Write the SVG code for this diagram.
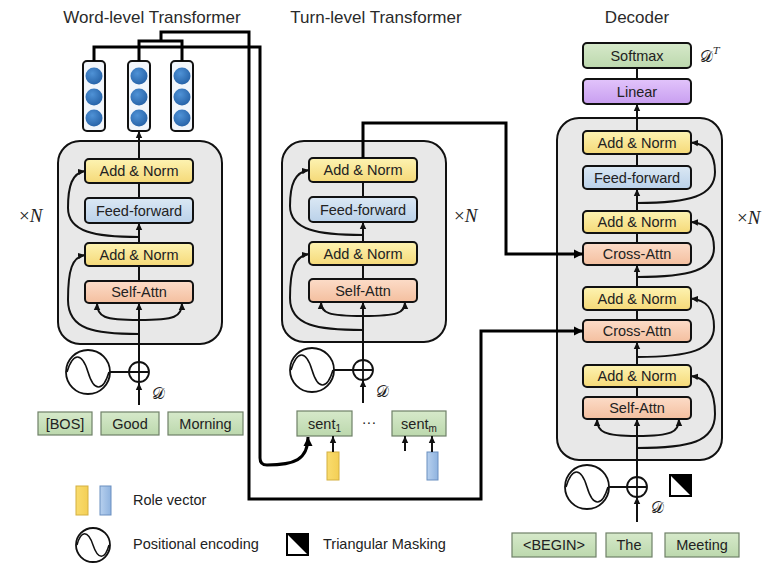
<svg xmlns="http://www.w3.org/2000/svg" width="783" height="576" viewBox="0 0 783 576">
<defs>
<linearGradient id="gY" x1="0" y1="0" x2="0" y2="1"><stop offset="0" stop-color="#fdf3b2"/><stop offset="1" stop-color="#f5d978"/></linearGradient>
<linearGradient id="gB" x1="0" y1="0" x2="0" y2="1"><stop offset="0" stop-color="#dbe8f4"/><stop offset="1" stop-color="#bad1e9"/></linearGradient>
<linearGradient id="gR" x1="0" y1="0" x2="0" y2="1"><stop offset="0" stop-color="#fcdcc8"/><stop offset="1" stop-color="#f4bf9f"/></linearGradient>
<linearGradient id="gG" x1="0" y1="0" x2="0" y2="1"><stop offset="0" stop-color="#d6e9ca"/><stop offset="1" stop-color="#bcd8ad"/></linearGradient>
<linearGradient id="gP" x1="0" y1="0" x2="0" y2="1"><stop offset="0" stop-color="#e2c4fb"/><stop offset="1" stop-color="#c89ef0"/></linearGradient>
<linearGradient id="gYv" x1="0" y1="0" x2="1" y2="0"><stop offset="0" stop-color="#f9dc6e"/><stop offset="1" stop-color="#f4cf55"/></linearGradient>
<linearGradient id="gBv" x1="0" y1="0" x2="1" y2="0"><stop offset="0" stop-color="#b7d0ee"/><stop offset="1" stop-color="#8fb3df"/></linearGradient>
<radialGradient id="gC" cx="0.4" cy="0.35" r="0.7"><stop offset="0" stop-color="#4f92d6"/><stop offset="1" stop-color="#2561a6"/></radialGradient>
<marker id="a" markerUnits="userSpaceOnUse" markerWidth="8" markerHeight="8" refX="7" refY="4" orient="auto"><path d="M0,0.8 L7,4 L0,7.2 z" fill="#111"/></marker>
<marker id="A" markerUnits="userSpaceOnUse" markerWidth="10" markerHeight="10" refX="9" refY="5" orient="auto"><path d="M0,0.5 L9,5 L0,9.5 z" fill="#000"/></marker>
<g id="pe"><circle r="22" fill="#fff" stroke="#111" stroke-width="1.8"/><path d="M-21,0 C-15,-20 -6,-20 0,0 C6,20 15,20 21,0" fill="none" stroke="#111" stroke-width="1.6"/></g>
<g id="plus"><circle r="10" fill="#fff" stroke="#111" stroke-width="1.8"/><path d="M-10,0 H10 M0,-10 V10" stroke="#111" stroke-width="1.8"/></g>
<g id="vec"><rect x="-11" y="0" width="22" height="70" rx="4" fill="#f2f6fb" stroke="#111" stroke-width="2"/><circle cy="15" r="8.5" fill="url(#gC)"/><circle cy="36" r="8.5" fill="url(#gC)"/><circle cy="57" r="8.5" fill="url(#gC)"/></g>
</defs>
<style>
.title{font-family:"Liberation Sans",Arial,sans-serif;font-size:17px;fill:#2a2a2a;text-anchor:middle}
.lbl{font-family:"Liberation Sans",Arial,sans-serif;font-size:14.5px;fill:#222;text-anchor:middle}
.leg{font-family:"Liberation Sans",Arial,sans-serif;font-size:14.5px;fill:#222}
.box{stroke:#111;stroke-width:2}
.an{fill:url(#gY)}
.ff{fill:url(#gB)}
.sa{fill:url(#gR)}
.sm{fill:url(#gG)}
.li{fill:url(#gP)}
.blk{fill:#e8e8e8;stroke:#111;stroke-width:2}
.tok{fill:url(#gG);stroke:#6f8068;stroke-width:1.2}
.ln{stroke:#111;stroke-width:2;fill:none}
.conn{stroke:#000;stroke-width:3;fill:none}
.math{font-family:"DejaVu Serif","DejaVu Sans","Liberation Serif",serif;font-size:16px;fill:#222}
.xn{font-family:"Liberation Serif","DejaVu Serif",serif;font-size:19px;fill:#222}
</style>
<rect width="783" height="576" fill="#fff"/>

<g id="titles">
<text class="title" x="152" y="23">Word-level Transformer</text>
<text class="title" x="376" y="23">Turn-level Transformer</text>
<text class="title" x="637" y="23">Decoder</text>
</g>

<g id="word-level">
<rect class="blk" x="58" y="141" width="164" height="203" rx="22"/>
<rect class="box an" x="85" y="159" width="108" height="24" rx="4"/><text class="lbl" x="139" y="176">Add &amp; Norm</text>
<rect class="box ff" x="85" y="198" width="108" height="25" rx="4"/><text class="lbl" x="139" y="215.5">Feed-forward</text>
<rect class="box an" x="85" y="243" width="108" height="23" rx="4"/><text class="lbl" x="139" y="259.5">Add &amp; Norm</text>
<rect class="box sa" x="85" y="281" width="108" height="22" rx="4"/><text class="lbl" x="139" y="297">Self-Attn</text>
<text class="xn" x="19" y="222">×<tspan font-style="italic">N</tspan></text>
</g>
<g id="word-vectors">
<use href="#vec" x="94" y="61"/>
<use href="#vec" x="139" y="61"/>
<use href="#vec" x="182" y="61"/>
</g>
<g id="word-input">
<use href="#pe" x="88" y="372"/>
<line class="ln" x1="110" y1="372" x2="129" y2="372"/>
<use href="#plus" x="139" y="372"/>
<text class="math" x="152" y="399">𝒟</text>
<rect class="tok" x="38" y="412" width="54" height="23"/><text class="lbl" x="65" y="428.5">[BOS]</text>
<rect class="tok" x="101" y="412" width="58" height="23"/><text class="lbl" x="130" y="428.5">Good</text>
<rect class="tok" x="168" y="412" width="75" height="23"/><text class="lbl" x="205.5" y="428.5">Morning</text>
</g>

<g id="turn-level">
<rect class="blk" x="282" y="141" width="164" height="201" rx="22"/>
<rect class="box an" x="309" y="158" width="108" height="24" rx="4"/><text class="lbl" x="363" y="175">Add &amp; Norm</text>
<rect class="box ff" x="309" y="197" width="108" height="25" rx="4"/><text class="lbl" x="363" y="214.5">Feed-forward</text>
<rect class="box an" x="309" y="242" width="108" height="23" rx="4"/><text class="lbl" x="363" y="258.5">Add &amp; Norm</text>
<rect class="box sa" x="309" y="279" width="108" height="23" rx="4"/><text class="lbl" x="363" y="295.5">Self-Attn</text>
<text class="xn" x="454" y="222">×<tspan font-style="italic">N</tspan></text>
</g>
<g id="turn-input">
<use href="#pe" x="312" y="370"/>
<line class="ln" x1="334" y1="370" x2="353" y2="370"/>
<use href="#plus" x="363" y="370"/>
<text class="math" x="376" y="397">𝒟</text>
<rect class="tok" x="297" y="411" width="55" height="25"/><text class="lbl" x="324.5" y="428.5">sent<tspan font-size="10" dy="3">1</tspan></text>
<text class="lbl" x="369" y="427" fill="#555">···</text>
<rect class="tok" x="392" y="411" width="54" height="25"/><text class="lbl" x="419" y="428.5">sent<tspan font-size="10" dy="3">m</tspan></text>
<rect x="327" y="452" width="12" height="28" fill="url(#gYv)" stroke="#d4b040" stroke-width="1"/>
<rect x="427" y="452" width="11" height="28" fill="url(#gBv)" stroke="#6a8fc0" stroke-width="1"/>
</g>

<g id="decoder">
<rect class="box sm" x="583" y="43" width="108" height="25" rx="4"/><text class="lbl" x="637" y="60.5">Softmax</text>
<text class="math" x="700" y="62">𝒟<tspan font-size="10" font-style="italic" dy="-8">T</tspan></text>
<rect class="box li" x="583" y="79" width="108" height="25" rx="4"/><text class="lbl" x="637" y="96.5">Linear</text>
<rect class="blk" x="557" y="118" width="165" height="342" rx="22"/>
<rect class="box an" x="583" y="131" width="108" height="23" rx="4"/><text class="lbl" x="637" y="147.5">Add &amp; Norm</text>
<rect class="box ff" x="583" y="166" width="108" height="23" rx="4"/><text class="lbl" x="637" y="182.5">Feed-forward</text>
<rect class="box an" x="583" y="211" width="108" height="22" rx="4"/><text class="lbl" x="637" y="227">Add &amp; Norm</text>
<rect class="box sa" x="583" y="243" width="108" height="22" rx="4"/><text class="lbl" x="637" y="259">Cross-Attn</text>
<rect class="box an" x="583" y="287" width="108" height="23" rx="4"/><text class="lbl" x="637" y="303.5">Add &amp; Norm</text>
<rect class="box sa" x="583" y="320" width="108" height="22" rx="4"/><text class="lbl" x="637" y="336">Cross-Attn</text>
<rect class="box an" x="583" y="365" width="108" height="22" rx="4"/><text class="lbl" x="637" y="381">Add &amp; Norm</text>
<rect class="box sa" x="583" y="397" width="108" height="22" rx="4"/><text class="lbl" x="637" y="413">Self-Attn</text>
<text class="xn" x="737" y="224">×<tspan font-style="italic">N</tspan></text>
</g>
<g id="decoder-input">
<use href="#pe" x="587" y="487"/>
<line class="ln" x1="609" y1="487" x2="627" y2="487"/>
<use href="#plus" x="637" y="487"/>
<text class="math" x="651" y="513">𝒟</text>
<rect x="669" y="474" width="23" height="23" fill="#000"/>
<polygon points="671,476 671,495 690,495" fill="#fff"/>
<rect class="tok" x="512" y="533" width="84" height="24"/><text class="lbl" x="554" y="550">&lt;BEGIN&gt;</text>
<rect class="tok" x="606" y="533" width="46" height="24"/><text class="lbl" x="629" y="550">The</text>
<rect class="tok" x="665" y="533" width="74" height="24"/><text class="lbl" x="702" y="550">Meeting</text>
</g>

<g id="legend">
<rect x="76" y="486" width="12" height="29" fill="url(#gYv)" stroke="#d4b040" stroke-width="1"/>
<rect x="100" y="486" width="11" height="29" fill="url(#gBv)" stroke="#6a8fc0" stroke-width="1"/>
<text class="leg" x="133" y="505">Role vector</text>
<circle cx="93" cy="545" r="17" fill="#fff" stroke="#111" stroke-width="1.8"/>
<path d="M77,545 C81,530 88,530 93,545 C98,560 105,560 109,545" fill="none" stroke="#111" stroke-width="1.5"/>
<text class="leg" x="133" y="549">Positional encoding</text>
<rect x="286" y="533" width="23" height="23" fill="#000"/>
<polygon points="288,535 288,554 307,554" fill="#fff"/>
<text class="leg" x="323" y="549">Triangular Masking</text>
</g>

<g id="connectors">
<line class="ln" x1="139" y1="405" x2="139" y2="383" marker-end="url(#a)"/>
<line class="ln" x1="139" y1="362" x2="139" y2="303" marker-end="url(#a)"/>
<path class="ln" d="M139,320 C104,320 97,317 97,303" marker-end="url(#a)"/>
<path class="ln" d="M139,320 C175,320 182,317 182,303" marker-end="url(#a)"/>
<line class="ln" x1="139" y1="281" x2="139" y2="266"/>
<line class="ln" x1="139" y1="243" x2="139" y2="223" marker-end="url(#a)"/>
<line class="ln" x1="139" y1="198" x2="139" y2="183"/>
<line class="ln" x1="139" y1="159" x2="139" y2="131" marker-end="url(#a)"/>
<path class="ln" d="M139,334 C95,334 68,330 68,300 C68,270 72,257 85,255" marker-end="url(#a)"/>
<path class="ln" d="M139,237 C95,237 68,232 68,208 C68,186 72,173 85,171" marker-end="url(#a)"/>
<line class="ln" x1="363" y1="403" x2="363" y2="380" marker-end="url(#a)"/>
<line class="ln" x1="363" y1="360" x2="363" y2="302" marker-end="url(#a)"/>
<path class="ln" d="M363,316 C328,316 321,313 321,302" marker-end="url(#a)"/>
<path class="ln" d="M363,316 C398,316 405,313 405,302" marker-end="url(#a)"/>
<line class="ln" x1="363" y1="279" x2="363" y2="265"/>
<line class="ln" x1="363" y1="242" x2="363" y2="222" marker-end="url(#a)"/>
<line class="ln" x1="363" y1="197" x2="363" y2="182"/>
<path class="ln" d="M363,330 C318,330 290,326 290,298 C290,268 295,256 309,254" marker-end="url(#a)"/>
<path class="ln" d="M363,235 C318,235 290,230 290,206 C290,184 295,172 309,170" marker-end="url(#a)"/>
<line class="ln" x1="333" y1="452" x2="333" y2="436" marker-end="url(#a)"/>
<line class="ln" x1="405" y1="451" x2="405" y2="436" marker-end="url(#a)"/>
<line class="ln" x1="432" y1="452" x2="432" y2="436" marker-end="url(#a)"/>
<line class="ln" x1="637" y1="522" x2="637" y2="497" marker-end="url(#a)"/>
<line class="ln" x1="637" y1="477" x2="637" y2="419" marker-end="url(#a)"/>
<path class="ln" d="M637,436 C604,436 597,432 597,419" marker-end="url(#a)"/>
<path class="ln" d="M637,436 C672,436 679,432 679,419" marker-end="url(#a)"/>
<line class="ln" x1="637" y1="397" x2="637" y2="387"/>
<line class="ln" x1="637" y1="365" x2="637" y2="342" marker-end="url(#a)"/>
<line class="ln" x1="637" y1="320" x2="637" y2="310"/>
<line class="ln" x1="637" y1="287" x2="637" y2="265" marker-end="url(#a)"/>
<line class="ln" x1="637" y1="243" x2="637" y2="233"/>
<line class="ln" x1="637" y1="211" x2="637" y2="189" marker-end="url(#a)"/>
<line class="ln" x1="637" y1="166" x2="637" y2="154"/>
<line class="ln" x1="637" y1="131" x2="637" y2="104" marker-end="url(#a)"/>
<line class="ln" x1="637" y1="79" x2="637" y2="68"/>
<path class="ln" d="M637,448 C690,448 715,442 715,414 C715,390 707,378 691,376" marker-end="url(#a)"/>
<path class="ln" d="M637,357 C690,357 714,350 714,327 C714,308 706,300 691,298.5" marker-end="url(#a)"/>
<path class="ln" d="M637,277 C690,277 714,270 714,248 C714,231 706,223 691,222" marker-end="url(#a)"/>
<path class="ln" d="M637,203 C690,203 715,196 715,172 C715,154 707,144 691,142.5" marker-end="url(#a)"/>
<path class="conn" d="M94,61 V47 H260 V458 Q260,465 267,465 C294,465 308,460 308,437" marker-end="url(#A)"/>
<path class="conn" d="M139,61 V41 H182 V61 M161,41 V32 H249 V499 H481 V331 H583" marker-end="url(#A)"/>
<path class="conn" d="M363,158 V123 H506 V254 H583" marker-end="url(#A)"/>
</g>
</svg>
